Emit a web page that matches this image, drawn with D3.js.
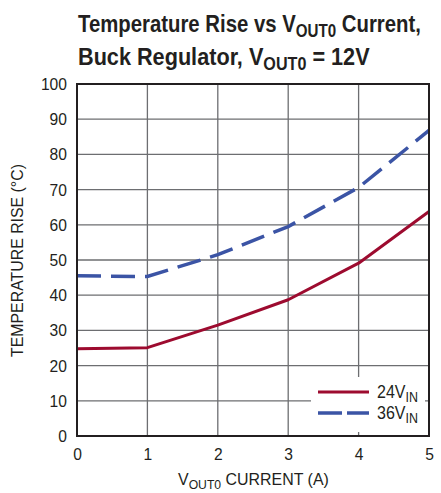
<!DOCTYPE html>
<html>
<head>
<meta charset="utf-8">
<script src="https://cdn.jsdelivr.net/npm/d3@7"></script>
<style>
  body { margin: 0; background: #fff; }
  svg { display: block; }
  text { font-family: "Liberation Sans Narrow", "Liberation Sans", Arial, sans-serif; fill: #231f20; }
</style>
</head>
<body>
<div id="chart"></div>
<script>
const current = [0, 1, 2, 3, 4, 5];
const rise24 = [24.8, 25.1, 31.5, 38.7, 49.1, 63.8];
const rise36 = [45.5, 45.3, 51.5, 59.5, 70.6, 86.8];
const xTicks = [0, 1, 2, 3, 4, 5];
const yTicks = [0, 10, 20, 30, 40, 50, 60, 70, 80, 90, 100];
const seriesNames = ["24V", "36V"];

const W = 441, H = 493;
const m = { left: 77, right: 12, top: 84, bottom: 57 };
const svg = d3.select("#chart").append("svg").attr("width", W).attr("height", H);

const x = d3.scaleLinear().domain([0, 5]).range([m.left, W - m.right]);
const y = d3.scaleLinear().domain([0, 100]).range([H - m.bottom, m.top]);

// squeeze a text horizontally to a target width, keeping its left x fixed
function fitWidth(sel, x0, target) {
  const w = sel.node().getBBox().width;
  const s = target / w;
  sel.attr("transform", `translate(${x0},0) scale(${s},1) translate(${-x0},0)`);
}

// grid
const g = svg.append("g");
g.selectAll(".vg").data(xTicks.slice(1, -1)).join("line")
  .attr("x1", d => x(d)).attr("x2", d => x(d))
  .attr("y1", y(0)).attr("y2", y(100))
  .attr("stroke", "#6d6e71").attr("stroke-width", 1.3);
g.selectAll(".hg").data(yTicks.slice(1, -1)).join("line")
  .attr("x1", x(0)).attr("x2", x(5))
  .attr("y1", d => y(d)).attr("y2", d => y(d))
  .attr("stroke", "#6d6e71").attr("stroke-width", 1.3);

// axes
const xAxis = svg.append("g").attr("transform", `translate(0,${y(0)})`)
  .call(d3.axisBottom(x).tickValues(xTicks).tickSize(0).tickPadding(12).tickFormat(d3.format("d")));
xAxis.select(".domain").remove();
const yAxis = svg.append("g").attr("transform", `translate(${x(0)},0)`)
  .call(d3.axisLeft(y).tickValues(yTicks).tickSize(0).tickPadding(10).tickFormat(d3.format("d")));
yAxis.select(".domain").remove();
svg.selectAll(".tick text").attr("font-size", 17).attr("fill", "#231f20");
svg.selectAll("g.tick").attr("font-family", null);
xAxis.attr("font-family", null).attr("font-size", null);
yAxis.attr("font-family", null).attr("font-size", null);
yAxis.selectAll(".tick text").each(function () {
  const t = d3.select(this);
  const w = this.getBBox().width;
  t.attr("transform", `translate(-10,0) scale(0.92,1) translate(10,0)`);
});
xAxis.selectAll(".tick text").attr("transform", "scale(0.92,1)");

// lines
const line = d3.line().x((d, i) => x(current[i])).y(d => y(d));
svg.append("path").datum(rise24).attr("d", line)
  .attr("fill", "none").attr("stroke", "#9d0b2f").attr("stroke-width", 3).attr("stroke-linejoin", "round");
svg.append("path").datum(rise36).attr("d", line)
  .attr("fill", "none").attr("stroke", "#3b54a5").attr("stroke-width", 3.5)
  .attr("stroke-dasharray", "24,10");

// legend box
svg.append("rect").attr("x", 311).attr("y", 377).attr("width", 114).attr("height", 55).attr("fill", "#fff");
const leg = svg.append("g");
const legItems = [
  { name: seriesNames[0], color: "#9d0b2f", dash: null, w: 3, yy: 392 },
  { name: seriesNames[1], color: "#3b54a5", dash: "24,5", w: 3.5, yy: 413 }
];
legItems.forEach(it => {
  leg.append("line").attr("x1", 318).attr("x2", 369).attr("y1", it.yy).attr("y2", it.yy)
    .attr("stroke", it.color).attr("stroke-width", it.w).attr("stroke-dasharray", it.dash);
  const t = leg.append("text").attr("x", 377).attr("y", it.yy + 6.5).attr("font-size", 18);
  t.append("tspan").text(it.name);
  t.append("tspan").attr("font-size", 14).attr("dy", 4).text("IN");
  fitWidth(t, 377, 41);
});

// frame
svg.append("rect").attr("x", x(0)).attr("y", y(100)).attr("width", x(5) - x(0)).attr("height", y(0) - y(100))
  .attr("fill", "none").attr("stroke", "#231f20").attr("stroke-width", 2);

// x title
const xt = svg.append("text").attr("x", 178).attr("y", 485).attr("font-size", 17);
xt.append("tspan").text("V");
xt.append("tspan").attr("font-size", 13).attr("dy", 4).text("OUT0");
xt.append("tspan").attr("dy", -4).text(" CURRENT (A)");
fitWidth(xt, 178, 151);

// y title
const yt = svg.append("text").attr("text-anchor", "middle").attr("font-size", 17).text("TEMPERATURE RISE (°C)");
const ytw = yt.node().getBBox().width;
yt.attr("transform", `translate(23,260.5) rotate(-90) scale(${193 / ytw},1)`);

// title
const t1 = svg.append("text").attr("x", 78).attr("y", 32.5).attr("font-size", 23.5).attr("font-weight", "bold");
t1.append("tspan").text("Temperature Rise vs V");
t1.append("tspan").attr("font-size", 17.5).attr("dy", 5).text("OUT0");
t1.append("tspan").attr("dy", -5).text(" Current,");
fitWidth(t1, 78, 343);
const t2 = svg.append("text").attr("x", 78).attr("y", 65).attr("font-size", 23.5).attr("font-weight", "bold");
t2.append("tspan").text("Buck Regulator, V");
t2.append("tspan").attr("font-size", 17.5).attr("dy", 5).text("OUT0");
t2.append("tspan").attr("dy", -5).text(" = 12V");
fitWidth(t2, 78, 292);
</script>
</body>
</html>
